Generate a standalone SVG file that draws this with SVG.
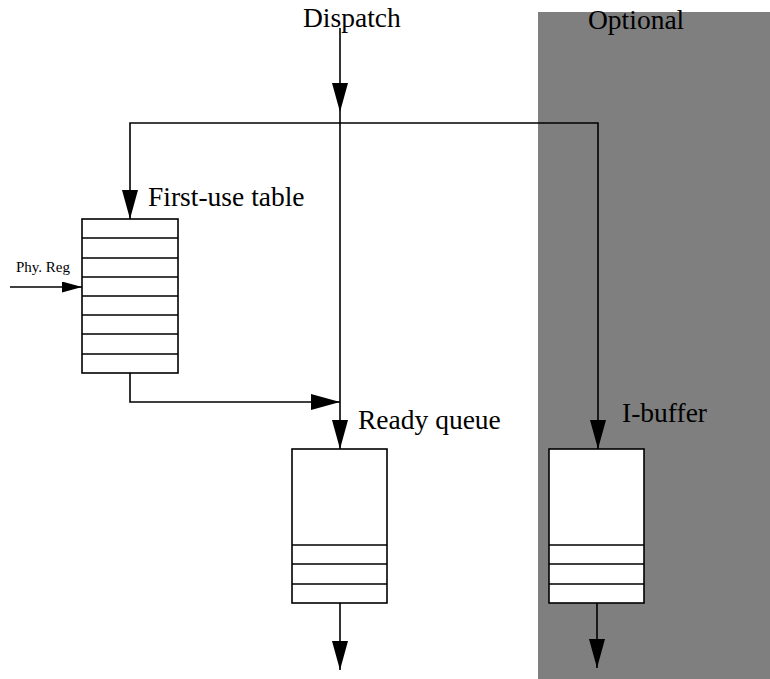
<svg xmlns="http://www.w3.org/2000/svg" width="770" height="679" viewBox="0 0 770 679">
<style>
.ln{fill:none;stroke:#000;stroke-width:1.6}
.bx{fill:#fff;stroke:#000;stroke-width:1.6}
.t{font-family:"Liberation Serif",serif;font-size:27.5px;fill:#000}
.ts{font-family:"Liberation Serif",serif;font-size:15px;fill:#000}
</style>
<defs>
<marker id="ah" markerUnits="userSpaceOnUse" markerWidth="30" markerHeight="18" refX="29" refY="8" orient="auto">
<path d="M0,0 L29,8 L0,16 z" fill="#000"/>
</marker>
<marker id="ahs" markerUnits="userSpaceOnUse" markerWidth="22" markerHeight="12" refX="20" refY="5.5" orient="auto">
<path d="M0,0 L20,5.5 L0,11 z" fill="#000"/>
</marker>
</defs>
<rect id="optional-region" x="538" y="12" width="232" height="667" fill="#7f7f7f"/>
<text class="t" x="588" y="29">Optional</text>
<g id="connectors">
<path class="ln" d="M340,28 V112" marker-end="url(#ah)"/>
<path class="ln" d="M340,112 V449" marker-end="url(#ah)"/>
<path class="ln" d="M340,123 H130 V219" marker-end="url(#ah)"/>
<path class="ln" d="M340,123 H598 V449" marker-end="url(#ah)"/>
<path class="ln" d="M130,373 V402 H340" marker-end="url(#ah)"/>
<path class="ln" d="M10,287 H82" marker-end="url(#ahs)"/>
<path class="ln" d="M340,603 V670" marker-end="url(#ah)"/>
<path class="ln" d="M597,603 V668" marker-end="url(#ah)"/>
</g>
<g id="dispatch"><text class="t" x="303" y="27">Dispatch</text></g>
<g id="phy-reg"><text class="ts" x="16" y="272">Phy. Reg</text></g>
<g id="first-use-table">
<text class="t" x="148" y="206">First-use table</text>
<rect class="bx" x="82" y="219" width="96" height="154"/>
<path class="ln" d="M82,238 H178 M82,258 H178 M82,277 H178 M82,296 H178 M82,315 H178 M82,334 H178 M82,354 H178"/>
</g>
<g id="ready-queue">
<text class="t" x="358" y="429">Ready queue</text>
<rect class="bx" x="292" y="449" width="95" height="154"/>
<path class="ln" d="M292,545 H387 M292,564 H387 M292,584 H387"/>
</g>
<g id="i-buffer">
<text class="t" x="622" y="422">I-buffer</text>
<rect class="bx" x="549" y="449" width="95" height="154"/>
<path class="ln" d="M549,545 H644 M549,564 H644 M549,584 H644"/>
</g>
</svg>
